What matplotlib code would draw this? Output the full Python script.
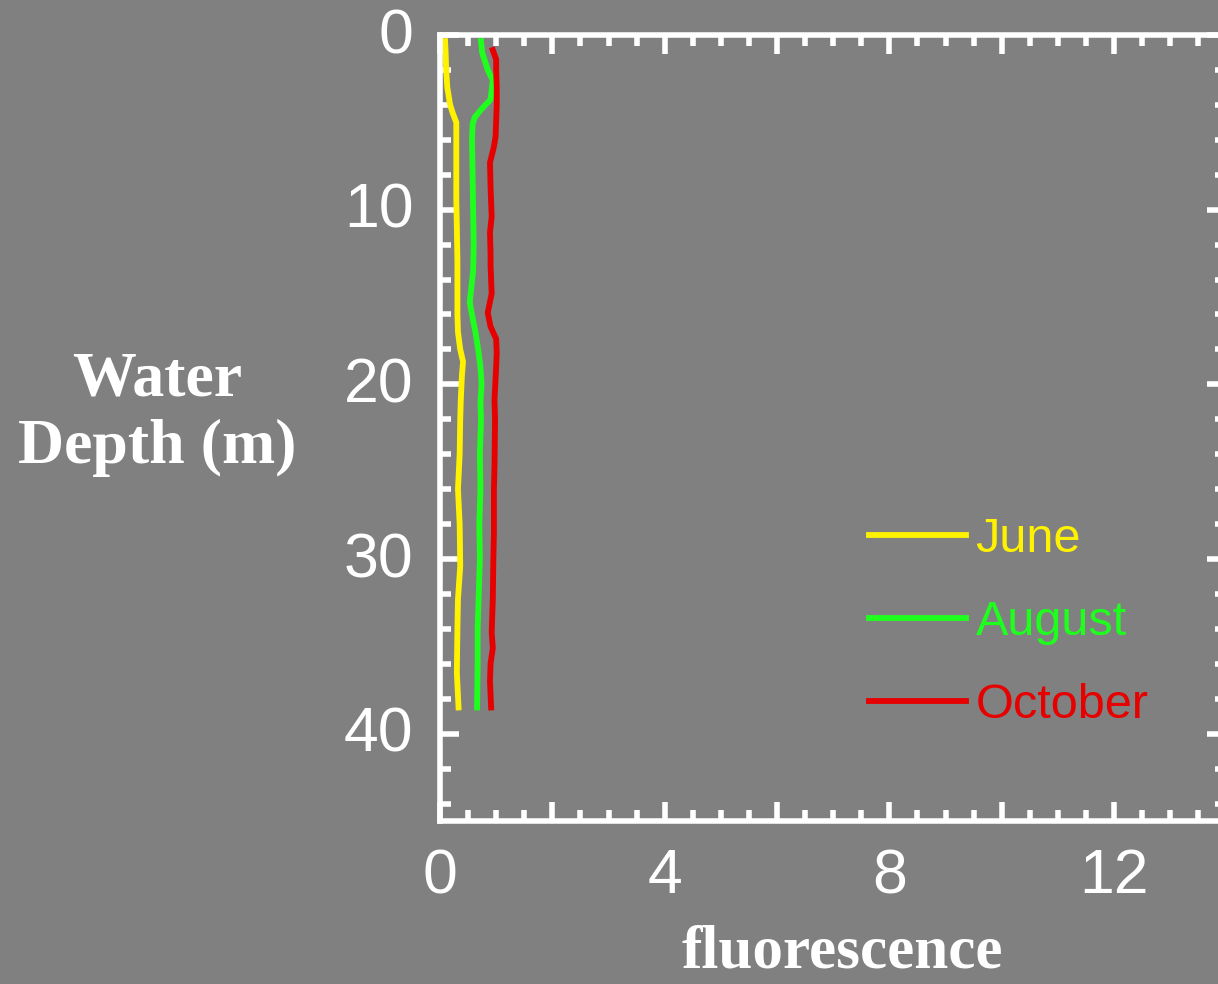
import matplotlib
matplotlib.use("Agg")
import matplotlib.pyplot as plt
import matplotlib.transforms as mtransforms
from matplotlib.ticker import MultipleLocator

# depth profiles (m) and fluorescence
june_depth = [0.35, 1, 2, 3, 4, 4.5, 5, 6, 8, 9.4, 11, 12.9, 14, 16, 17, 18, 18.7, 19.5,
              20.9, 22, 24, 26, 28, 30.4, 32.3, 34, 36.5, 38.5]
june_fluor = [0.09, 0.1, 0.11, 0.13, 0.18, 0.23, 0.29, 0.29, 0.29, 0.29, 0.3, 0.31, 0.31,
              0.31, 0.32, 0.36, 0.41, 0.39, 0.37, 0.36, 0.35, 0.32, 0.35, 0.36, 0.32, 0.31,
              0.30, 0.33]

aug_depth = [0.35, 1, 2, 2.6, 3.7, 4.2, 4.7, 5.1, 6, 8, 10, 12, 13.5, 15.3, 16.2, 17, 18,
             19, 20, 21, 22, 24, 26, 28, 30, 32, 34, 36, 38.5]
aug_fluor = [0.73, 0.75, 0.85, 0.94, 0.9, 0.75, 0.62, 0.58, 0.57, 0.58, 0.59, 0.6, 0.59,
             0.53, 0.58, 0.63, 0.68, 0.72, 0.74, 0.72, 0.73, 0.71, 0.72, 0.7, 0.71, 0.69,
             0.67, 0.67, 0.66]

oct_depth = [0.86, 1.4, 2, 3, 4, 4.9, 5.8, 6.4, 7.3, 8.7, 10.4, 11.3, 12.5, 13.2, 14.8,
             15.9, 16.7, 17.4, 18.2, 19, 20.9, 22, 24.7, 26, 28.5, 30, 32.3, 34.2, 35.1,
             36, 37, 38.5]
oct_fluor = [0.94, 1.0, 1.0, 1.01, 1.01, 1.0, 0.99, 0.96, 0.89, 0.9, 0.92, 0.89, 0.9, 0.9,
             0.92, 0.85, 0.9, 1.0, 1.01, 1.0, 0.97, 0.98, 0.97, 0.96, 0.96, 0.95, 0.94,
             0.92, 0.94, 0.9, 0.89, 0.91]

labels = ['June', 'August', 'October']
colors = ['#FFF200', '#1EFF1E', '#E60000']

x_ticks = [0, 2, 4, 6, 8, 10, 12, 14]
x_ticklabels = ['0', '', '4', '', '8', '', '12', '']
y_ticks = [0, 10, 20, 30, 40]

bg = '#808080'
fig = plt.figure(figsize=(12.18, 9.84), dpi=100, facecolor=bg)
ax = fig.add_axes([440 / 1218, 163 / 984, 786.4 / 1218, 786 / 984], facecolor=bg)

for d, f, lab, c in zip([june_depth, aug_depth, oct_depth],
                        [june_fluor, aug_fluor, oct_fluor], labels, colors):
    ax.plot(f, d, color=c, lw=4.2, label=lab, solid_joinstyle='round')

ax.set_xlim(0, 14)
ax.set_ylim(45, 0)
ax.set_xticks(x_ticks)
ax.set_xticklabels(x_ticklabels)
ax.set_yticks(y_ticks)
ax.xaxis.set_minor_locator(MultipleLocator(0.5))
ax.yaxis.set_minor_locator(MultipleLocator(2))

for s in ax.spines.values():
    s.set_color('white')
    s.set_linewidth(4)

ax.tick_params(which='both', direction='in', top=True, right=True, color='white',
               width=4, labelcolor='white', labelsize=45, pad=19)
ax.tick_params(which='major', length=13.7)
ax.tick_params(which='minor', length=8)
for t in ax.get_xticklabels() + ax.get_yticklabels():
    t.set_fontfamily('Liberation Sans')
# y labels sit a little above their ticks in the original
shift = mtransforms.ScaledTranslation(0, 5 / 100, fig.dpi_scale_trans)
for t in ax.get_yticklabels():
    t.set_transform(t.get_transform() + shift)

ax.set_ylabel('Water\nDepth (m)', rotation=0, ha='center', va='center', color='white',
              fontsize=46, fontweight='bold', family='Liberation Serif', linespacing=1.2)
ax.yaxis.set_label_coords((157 - 440) / 786.4, (821 - 414) / 786)
ax.set_xlabel('fluorescence', color='white', fontsize=44, fontweight='bold',
              family='Liberation Serif', va='baseline')
ax.xaxis.set_label_coords((842.5 - 440) / 786.4, (821 - 967) / 786)

leg = ax.legend(loc='center left', bbox_to_anchor=(7.64, 33.65), bbox_transform=ax.transData,
                frameon=False, handlelength=2.0, handletextpad=0.19,
                labelspacing=0.78, borderpad=0, borderaxespad=0, labelcolor='linecolor',
                prop={'family': 'Liberation Sans', 'size': 35})

fig.savefig('out.png', dpi=100, facecolor=bg)
